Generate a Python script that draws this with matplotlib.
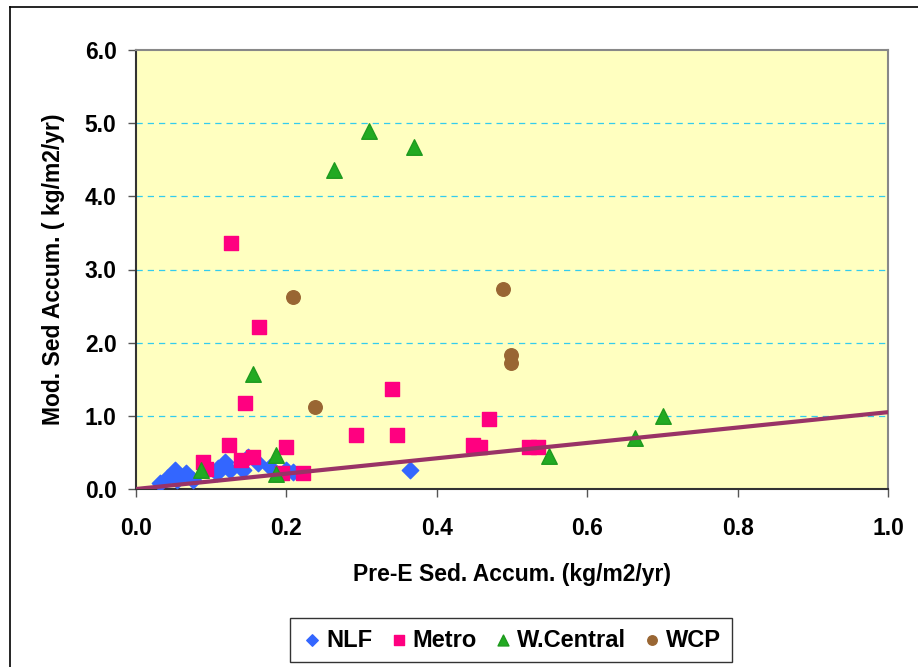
import matplotlib.pyplot as plt
import numpy as np

plt.rcParams['font.family'] = ['Liberation Sans', 'DejaVu Sans']
plt.rcParams['font.weight'] = 'bold'

# pre-E sediment accumulation (x) vs modern (y), kg/m2/yr
nlf_x = [0.032, 0.041, 0.052, 0.054, 0.066, 0.076, 0.108, 0.109, 0.118, 0.125,
         0.142, 0.149, 0.162, 0.178, 0.200, 0.209, 0.364]
nlf_y = [0.08, 0.15, 0.26, 0.12, 0.22, 0.12, 0.22, 0.29, 0.37, 0.26,
         0.26, 0.44, 0.35, 0.30, 0.26, 0.23, 0.26]

metro_x = [0.126, 0.164, 0.145, 0.124, 0.089, 0.093, 0.140, 0.155, 0.200, 0.194,
           0.222, 0.293, 0.341, 0.347, 0.469, 0.448, 0.458, 0.522, 0.535]
metro_y = [3.36, 2.21, 1.18, 0.60, 0.37, 0.27, 0.39, 0.44, 0.58, 0.22,
           0.22, 0.74, 1.37, 0.74, 0.96, 0.60, 0.58, 0.58, 0.58]

wc_x = [0.310, 0.370, 0.263, 0.156, 0.186, 0.186, 0.086, 0.549, 0.664, 0.701]
wc_y = [4.89, 4.67, 4.36, 1.57, 0.47, 0.20, 0.26, 0.45, 0.70, 1.00]

wcp_x = [0.209, 0.238, 0.488, 0.499, 0.499]
wcp_y = [2.62, 1.12, 2.73, 1.83, 1.72]

trend_x = [0.0, 1.0]
trend_y = [0.0, 1.05]

fig = plt.figure(figsize=(9.18, 6.67), dpi=100)
ax = fig.add_axes([136/918, 1 - 489/667, (888-136)/918, (489-50)/667])
ax.set_facecolor('#FFFFC0')

# outer chart border (left and top visible)
fig.add_artist(plt.Line2D([10/918, 10/918], [0, 1 - 7/667], color='black', lw=1.2, transform=fig.transFigure))
fig.add_artist(plt.Line2D([10/918, 1], [1 - 7/667, 1 - 7/667], color='black', lw=1.2, transform=fig.transFigure))

for yv in [1, 2, 3, 4, 5]:
    ax.axhline(yv, color='#33CCEE', lw=0.9, ls=(0, (5, 4)), zorder=1)

ax.scatter(nlf_x, nlf_y, marker='D', s=70, color='#3366FF', label='NLF', zorder=3)
ax.scatter(metro_x, metro_y, marker='s', s=95, color='#FF0080', label='Metro', zorder=3)
ax.scatter(wc_x, wc_y, marker='^', s=125, color='#22AA22', edgecolors='#1E9A1E', label='W.Central', zorder=3)
ax.scatter(wcp_x, wcp_y, marker='o', s=95, color='#996633', label='WCP', zorder=3)
ax.plot(trend_x, trend_y, color='#993366', lw=3, zorder=4)

ax.set_xlim(0, 1.0)
ax.set_ylim(0, 6.0)
ax.set_xticks(np.arange(0, 1.01, 0.2))
ax.set_yticks(np.arange(0, 6.01, 1.0))
ax.set_xticklabels(['%.1f' % v for v in np.arange(0, 1.01, 0.2)])
ax.set_yticklabels(['%.1f' % v for v in np.arange(0, 6.01, 1.0)])
ax.tick_params(direction='out', length=6, width=1, color='#555555', labelsize=16.5)
ax.tick_params(axis='x', pad=14)
ax.tick_params(axis='y', pad=8)
for lab in ax.get_xticklabels() + ax.get_yticklabels():
    lab.set_fontweight('bold')

ax.spines['top'].set_color('#888888')
ax.spines['right'].set_color('#888888')
ax.spines['left'].set_color('#333333')
ax.spines['bottom'].set_color('#333333')
for sp in ax.spines.values():
    sp.set_linewidth(1.5)

ax.set_xlabel('Pre-E Sed. Accum. (kg/m2/yr)', fontsize=16.5, fontweight='bold', labelpad=17)
ax.set_ylabel('Mod. Sed Accum. ( kg/m2/yr)', fontsize=16.5, fontweight='bold', labelpad=14)

leg = fig.legend(loc='upper center', bbox_to_anchor=(511/918, 1 - 618/667), ncol=4,
                 frameon=True, fancybox=False, edgecolor='black', fontsize=17,
                 handletextpad=0.1, columnspacing=0.6, borderpad=0.45, borderaxespad=0,
                 handlelength=1.0, markerscale=0.7)
leg.get_frame().set_linewidth(1.0)
for t in leg.get_texts():
    t.set_fontweight('bold')

fig.savefig('out.png', dpi=100)
